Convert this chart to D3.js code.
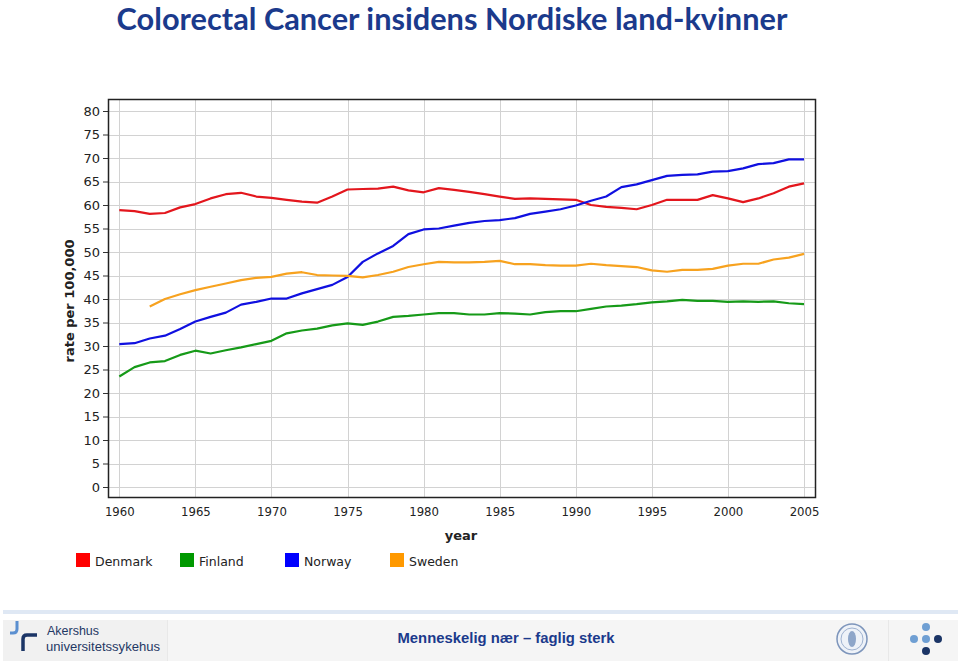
<!DOCTYPE html>
<html>
<head>
<meta charset="utf-8">
<script src="https://cdn.jsdelivr.net/npm/d3@7"></script>
<style>
  html, body { margin: 0; padding: 0; background: #ffffff; }
  svg { display: block; }
</style>
</head>
<body>
<svg id="chart" width="960" height="663"></svg>
<script>
// ---------- DATA ----------
const years = d3.range(1960, 2006);
const xTicks = [1960, 1965, 1970, 1975, 1980, 1985, 1990, 1995, 2000, 2005];
const yTicks = [0, 5, 10, 15, 20, 25, 30, 35, 40, 45, 50, 55, 60, 65, 70, 75, 80];
const countries = ["Denmark", "Finland", "Norway", "Sweden"];
const colors = ["#e3161d", "#169a18", "#1010e0", "#f7a21f"];
const legendColors = ["#ff0000", "#009900", "#0000ff", "#ff9900"];

const denmark = [58.9, 58.7, 58.1, 58.3, 59.5, 60.2, 61.4, 62.3, 62.6, 61.8,
                 61.5, 61.1, 60.7, 60.5, 61.8, 63.3, 63.4, 63.5, 63.9, 63.1,
                 62.7, 63.6, 63.2, 62.8, 62.3, 61.8, 61.3, 61.4, 61.3, 61.2,
                 61.1, 60.0, 59.6, 59.4, 59.1, 60.0, 61.1, 61.1, 61.1, 62.1,
                 61.4, 60.6, 61.4, 62.5, 63.9, 64.6];
const finland = [23.5, 25.5, 26.5, 26.8, 28.1, 29.0, 28.4, 29.1, 29.7, 30.4,
                 31.1, 32.7, 33.3, 33.7, 34.4, 34.8, 34.5, 35.2, 36.2, 36.4,
                 36.7, 37.0, 37.0, 36.7, 36.7, 37.0, 36.9, 36.7, 37.2, 37.4,
                 37.4, 37.9, 38.4, 38.6, 38.9, 39.3, 39.5, 39.8, 39.6, 39.6,
                 39.4, 39.5, 39.4, 39.5, 39.1, 38.9];
const norway  = [30.4, 30.6, 31.6, 32.2, 33.6, 35.2, 36.2, 37.1, 38.8, 39.4,
                 40.1, 40.1, 41.2, 42.1, 43.0, 44.7, 47.9, 49.7, 51.3, 53.8,
                 54.8, 55.0, 55.6, 56.2, 56.6, 56.8, 57.2, 58.1, 58.6, 59.1,
                 59.9, 60.9, 61.8, 63.8, 64.4, 65.3, 66.2, 66.4, 66.5, 67.1,
                 67.2, 67.8, 68.7, 68.9, 69.7, 69.7];
const sweden  = [null, null, 38.4, 40.0, 41.0, 41.9, 42.6, 43.3, 44.0, 44.5,
                 44.7, 45.4, 45.7, 45.1, 45.0, 44.9, 44.6, 45.1, 45.8, 46.8,
                 47.4, 47.9, 47.8, 47.8, 47.9, 48.1, 47.4, 47.4, 47.2, 47.1,
                 47.1, 47.5, 47.2, 47.0, 46.8, 46.1, 45.8, 46.2, 46.2, 46.4,
                 47.1, 47.5, 47.5, 48.4, 48.8, 49.6];
const seriesValues = [denmark, finland, norway, sweden];

const titleText = "Colorectal Cancer insidens Nordiske land-kvinner";
const xLabel = "year";
const yLabel = "rate per 100,000";
const footerLeft1 = "Akershus";
const footerLeft2 = "universitetssykehus";
const footerCenter = "Menneskelig nær – faglig sterk";

// ---------- LAYOUT ----------
const svg = d3.select("#chart");
const frame = {left: 108, top: 99, right: 815, bottom: 497};
const x = d3.scaleLinear().domain([1960, 2005]).range([119.3, 804]);
const y = d3.scaleLinear().domain([0, 80]).range([487, 111]);

// Title
const title = svg.append("text")
  .attr("x", 452).attr("y", 30)
  .attr("text-anchor", "middle")
  .attr("font-family", "Lato, 'Open Sans', sans-serif")
  .attr("font-weight", "bold")
  .attr("font-size", 28)
  .attr("fill", "#1b3a8c")
  .text(titleText);
const tw = title.node().getComputedTextLength();
title.attr("font-size", 28 * 671 / tw);

// Plot background
svg.append("rect")
  .attr("x", frame.left).attr("y", frame.top)
  .attr("width", frame.right - frame.left).attr("height", frame.bottom - frame.top)
  .attr("fill", "#ffffff");

// Grid
const grid = svg.append("g").attr("stroke", "#d2d2d2").attr("stroke-width", 1);
grid.selectAll("line.gy").data(yTicks).join("line")
  .attr("x1", frame.left).attr("x2", frame.right)
  .attr("y1", d => Math.round(y(d)) + 0.5).attr("y2", d => Math.round(y(d)) + 0.5);
grid.selectAll("line.gx").data(xTicks).join("line")
  .attr("y1", frame.top).attr("y2", frame.bottom)
  .attr("x1", d => Math.round(x(d)) + 0.5).attr("x2", d => Math.round(x(d)) + 0.5);

// Y axis
const yAxis = d3.axisLeft(y).tickValues(yTicks).tickSize(5).tickPadding(3);
const yg = svg.append("g").attr("transform", `translate(${frame.left},0)`).call(yAxis);
yg.select(".domain").remove();
yg.selectAll(".tick line").attr("stroke", "#333");
yg.selectAll(".tick text")
  .attr("font-family", "'DejaVu Sans', sans-serif")
  .attr("font-size", 13).attr("fill", "#222");

// X axis labels
const xAxis = d3.axisBottom(x).tickValues(xTicks).tickFormat(d3.format("d")).tickSize(0).tickPadding(10);
const xg = svg.append("g").attr("transform", `translate(0,${frame.bottom})`).call(xAxis);
xg.select(".domain").remove();
xg.selectAll(".tick text")
  .attr("font-family", "'DejaVu Sans Condensed', 'DejaVu Sans', sans-serif")
  .attr("font-size", 13).attr("fill", "#222");

// Lines
const line = d3.line()
  .defined(d => d.v != null)
  .x(d => x(d.year)).y(d => y(d.v));
seriesValues.forEach((vals, i) => {
  const pts = years.map((yr, j) => ({year: yr, v: vals[j]}));
  svg.append("path")
    .datum(pts)
    .attr("fill", "none")
    .attr("stroke", colors[i])
    .attr("stroke-width", 2.2)
    .attr("stroke-linejoin", "round")
    .attr("d", line);
});

// Frame
svg.append("rect")
  .attr("x", frame.left + 0.5).attr("y", frame.top + 0.5)
  .attr("width", frame.right - frame.left).attr("height", frame.bottom - frame.top)
  .attr("fill", "none").attr("stroke", "#222").attr("stroke-width", 1.5);

// Axis titles
svg.append("text")
  .attr("x", 461).attr("y", 540)
  .attr("text-anchor", "middle")
  .attr("font-family", "'DejaVu Sans', sans-serif")
  .attr("font-weight", "bold").attr("font-size", 13).attr("fill", "#222")
  .text(xLabel);
svg.append("text")
  .attr("transform", "translate(74,301) rotate(-90)")
  .attr("text-anchor", "middle")
  .attr("font-family", "'DejaVu Sans', sans-serif")
  .attr("font-weight", "bold").attr("font-size", 13).attr("fill", "#222")
  .text(yLabel);

// Legend
const legendX = [76, 180, 285, 390];
const lg = svg.append("g");
countries.forEach((c, i) => {
  lg.append("rect").attr("x", legendX[i]).attr("y", 553).attr("width", 14).attr("height", 14)
    .attr("fill", legendColors[i]);
  lg.append("text").attr("x", legendX[i] + 19).attr("y", 566)
    .attr("font-family", "'DejaVu Sans', sans-serif")
    .attr("font-size", 12.5).attr("fill", "#222")
    .text(c);
});

// Footer
svg.append("rect").attr("x", 3).attr("y", 610).attr("width", 955).attr("height", 4).attr("fill", "#dfe8f4");
svg.append("rect").attr("x", 3).attr("y", 620).attr("width", 955).attr("height", 41).attr("fill", "#f5f5f5");
svg.append("rect").attr("x", 3).attr("y", 620).attr("width", 164).attr("height", 41).attr("fill", "#f1f1f1");
svg.append("line").attr("x1", 167.5).attr("x2", 167.5).attr("y1", 620).attr("y2", 661).attr("stroke", "#e8e8e8");
svg.append("line").attr("x1", 888.5).attr("x2", 888.5).attr("y1", 620).attr("y2", 661).attr("stroke", "#e8e8e8");

// Logo (left)
svg.append("path").attr("d", "M17,621 L17,629 Q17,633 13,633 L10,633")
  .attr("fill", "none").attr("stroke", "#5b8fd0").attr("stroke-width", 3);
svg.append("path").attr("d", "M37,635 L27,635 Q23,635 23,639 L23,651")
  .attr("fill", "none").attr("stroke", "#1b3566").attr("stroke-width", 3.5);
svg.append("text").attr("x", 47).attr("y", 635)
  .attr("font-family", "'Liberation Sans', Arial, sans-serif").attr("font-size", 12.5).attr("fill", "#1f3864")
  .attr("textLength", 52).attr("lengthAdjust", "spacingAndGlyphs")
  .text(footerLeft1);
svg.append("text").attr("x", 46).attr("y", 650.5)
  .attr("font-family", "'Liberation Sans', Arial, sans-serif").attr("font-size", 12.5).attr("fill", "#1f3864")
  .attr("textLength", 114).attr("lengthAdjust", "spacingAndGlyphs")
  .text(footerLeft2);

// Center slogan
svg.append("text").attr("x", 506).attr("y", 643)
  .attr("text-anchor", "middle")
  .attr("font-family", "'Liberation Sans', Arial, sans-serif")
  .attr("font-weight", "bold").attr("font-size", 15).attr("fill", "#1b3a8c")
  .attr("textLength", 217).attr("lengthAdjust", "spacingAndGlyphs")
  .text(footerCenter);

// Seal
svg.append("circle").attr("cx", 852).attr("cy", 639).attr("r", 15)
  .attr("fill", "#eef2f8").attr("stroke", "#7d95bb").attr("stroke-width", 1.5);
svg.append("circle").attr("cx", 852).attr("cy", 639).attr("r", 11)
  .attr("fill", "none").attr("stroke", "#9fb2d0").attr("stroke-width", 1);
svg.append("ellipse").attr("cx", 852).attr("cy", 639).attr("rx", 4).attr("ry", 8)
  .attr("fill", "#8ea6c9");

// Dots
const dots = [[926, 627, "#6f9fd3"], [914, 639, "#6f9fd3"], [926, 639, "#6f9fd3"], [938, 639, "#1b3566"], [926, 651, "#1b3566"]];
svg.selectAll("circle.dot").data(dots).join("circle")
  .attr("class", "dot")
  .attr("cx", d => d[0]).attr("cy", d => d[1]).attr("r", 4)
  .attr("fill", d => d[2]);
</script>
</body>
</html>
